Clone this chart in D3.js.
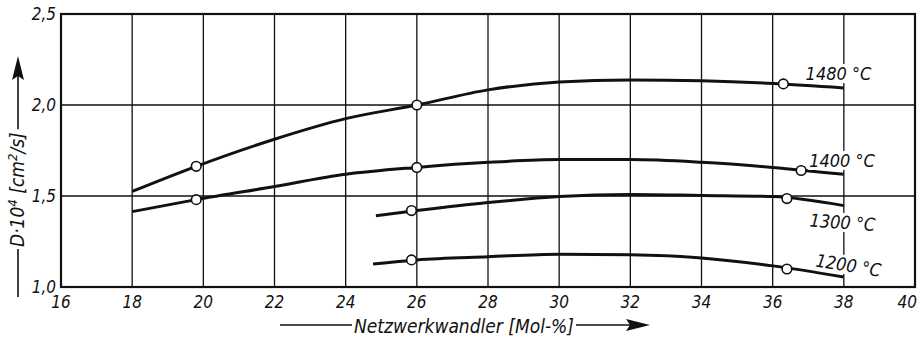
<!DOCTYPE html>
<html>
  <head>
    <meta charset="utf-8">
    <title>Diffusionskoeffizient</title>
    <script src="https://d3js.org/d3.v7.min.js"></script>
    <style>
      body { margin: 0; background: #fff; }
      svg text { font-family: "DejaVu Sans Condensed", "DejaVu Sans", sans-serif; font-stretch: condensed; font-style: italic; fill: #111; }
      .grid { stroke: #111; stroke-width: 1.3; }
      .frame { fill: none; stroke: #111; stroke-width: 2.2; }
      .curve { fill: none; stroke: #111; stroke-width: 3; }
      .dot { fill: #fff; stroke: #111; stroke-width: 1.6; }
    </style>
  </head>
  <body>
    <svg id="chart" width="918" height="338"></svg>
    <script>
      // data
      const xTicks = [16, 18, 20, 22, 24, 26, 28, 30, 32, 34, 36, 38, 40];
      const yTicks = [1.0, 1.5, 2.0, 2.5];
      const seriesNames = ["1480 °C", "1400 °C", "1300 °C", "1200 °C"];
      const curve1480 = [[18, 1.525], [19.8, 1.663], [22, 1.812], [24, 1.925], [26, 2.0], [28, 2.083], [30, 2.127], [32, 2.138], [34, 2.133], [36, 2.118], [38, 2.094]];
      const curve1400 = [[18, 1.414], [19.8, 1.48], [22, 1.552], [24, 1.619], [26, 1.657], [28, 1.685], [30, 1.70], [32, 1.70], [34, 1.685], [36, 1.657], [38, 1.619]];
      const curve1300 = [[24.85, 1.392], [26, 1.42], [28, 1.464], [30, 1.497], [32, 1.508], [34, 1.503], [36, 1.497], [38, 1.447]];
      const curve1200 = [[24.77, 1.127], [26, 1.149], [28, 1.166], [30, 1.18], [32, 1.177], [34, 1.16], [36, 1.116], [38, 1.055]];
      const points1480 = [[19.8, 1.663], [26, 2.0], [36.3, 2.116]];
      const points1400 = [[19.8, 1.48], [26, 1.657], [36.8, 1.64]];
      const points1300 = [[25.85, 1.42], [36.4, 1.486]];
      const points1200 = [[25.85, 1.149], [36.4, 1.099]];
      const xTitle = "Netzwerkwandler [Mol-%]";

      const curves = [curve1480, curve1400, curve1300, curve1200];
      const points = [points1480, points1400, points1300, points1200];

      svg = d3.select("#chart");
      x = d3.scaleLinear().domain([16, 40]).range([61, 915]);
      y = d3.scaleLinear().domain([1, 2.5]).range([287, 14]);
      fmt = function(d) { return d3.format(".1f")(d).replace(".", ","); };

      // grid
      svg.append("g").selectAll("line")
          .data(xTicks)
        .enter().append("line")
          .classed("grid", true)
          .attr("x1", function(d) { return x(d); })
          .attr("x2", function(d) { return x(d); })
          .attr("y1", y(2.5))
          .attr("y2", y(1));
      svg.append("g").selectAll("line")
          .data(yTicks)
        .enter().append("line")
          .classed("grid", true)
          .attr("x1", x(16))
          .attr("x2", x(40))
          .attr("y1", function(d) { return y(d); })
          .attr("y2", function(d) { return y(d); });
      svg.append("rect")
        .classed("frame", true)
        .attr("x", x(16)).attr("y", y(2.5))
        .attr("width", x(40) - x(16)).attr("height", y(1) - y(2.5));

      // tick labels
      xLabels = svg.append("g").selectAll("text")
          .data(xTicks)
        .enter().append("text")
          .attr("x", function(d) { return x(d); })
          .attr("y", 308)
          .attr("text-anchor", "middle")
          .style("font-size", "17px")
          .text(function(d) { return d; });
      // keep the last label inside the page
      xLabels.attr("x", function(d) {
        let w = this.getComputedTextLength();
        return Math.min(x(d), 917 - w / 2);
      });
      svg.append("g").selectAll("text")
          .data(yTicks)
        .enter().append("text")
          .attr("x", 56)
          .attr("y", function(d) { return y(d) + 6; })
          .attr("text-anchor", "end")
          .style("font-size", "17px")
          .text(fmt);

      // curves and measured points
      line = d3.line()
        .x(function(d) { return x(d[0]); })
        .y(function(d) { return y(d[1]); })
        .curve(d3.curveMonotoneX);
      svg.append("g").selectAll("path")
          .data(curves)
        .enter().append("path")
          .classed("curve", true)
          .attr("d", line);
      svg.append("g").selectAll("circle")
          .data(points.flat())
        .enter().append("circle")
          .classed("dot", true)
          .attr("cx", function(d) { return x(d[0]); })
          .attr("cy", function(d) { return y(d[1]); })
          .attr("r", 4.8);

      // series labels on the 38 line, with white boxes breaking the grid line
      labelPos = [[37.85, 2.137, 0], [37.95, 1.66, 0], [37.95, 1.32, 4], [38.1, 1.085, 9]];
      labels = svg.append("g").selectAll("g")
          .data(seriesNames)
        .enter().append("g")
          .attr("transform", function(d, i) {
            let p = labelPos[i];
            return "translate(" + x(p[0]) + "," + y(p[1]) + ") rotate(" + p[2] + ")";
          });
      labels.append("text")
        .attr("text-anchor", "middle")
        .style("font-size", "18px")
        .text(function(d) { return d; });
      labels.each(function() {
        let g = d3.select(this);
        let b = g.select("text").node().getBBox();
        g.insert("rect", "text")
          .attr("x", b.x - 1).attr("y", b.y + 1)
          .attr("width", b.width + 2).attr("height", b.height - 2)
          .style("fill", "#fff");
      });

      // x axis title with arrow
      xt = svg.append("text")
        .attr("x", 464)
        .attr("y", 333)
        .attr("text-anchor", "middle")
        .style("font-size", "19px")
        .text(xTitle);
      xb = xt.node().getBBox();
      svg.append("line")
        .attr("x1", 280).attr("x2", xb.x - 2)
        .attr("y1", 325).attr("y2", 325)
        .style("stroke", "#111").style("stroke-width", 1.6);
      svg.append("line")
        .attr("x1", xb.x + xb.width + 2).attr("x2", 640)
        .attr("y1", 325).attr("y2", 325)
        .style("stroke", "#111").style("stroke-width", 1.6);
      svg.append("path")
        .attr("d", "M650,325 L626,319 L630,325 L626,331 Z")
        .style("fill", "#111");

      // y axis title with arrow, text runs upward from y = 247
      yt = svg.append("text")
        .attr("transform", "translate(24,247) rotate(-90)")
        .style("font-size", "19px");
      yt.append("tspan").text("D·10");
      yt.append("tspan").attr("dy", -7).style("font-size", "13px").text("4");
      yt.append("tspan").attr("dy", 7).text(" [cm");
      yt.append("tspan").attr("dy", -7).style("font-size", "13px").text("2");
      yt.append("tspan").attr("dy", 7).text("/s]");
      yw = yt.node().getBBox().width;
      svg.append("line")
        .attr("x1", 18).attr("x2", 18)
        .attr("y1", 297).attr("y2", 249)
        .style("stroke", "#111").style("stroke-width", 1.6);
      svg.append("line")
        .attr("x1", 18).attr("x2", 18)
        .attr("y1", 247 - yw - 3).attr("y2", 66)
        .style("stroke", "#111").style("stroke-width", 1.6);
      svg.append("path")
        .attr("d", "M18,56 L12,80 L18,76 L24,80 Z")
        .style("fill", "#111");
    </script>
  </body>
</html>
